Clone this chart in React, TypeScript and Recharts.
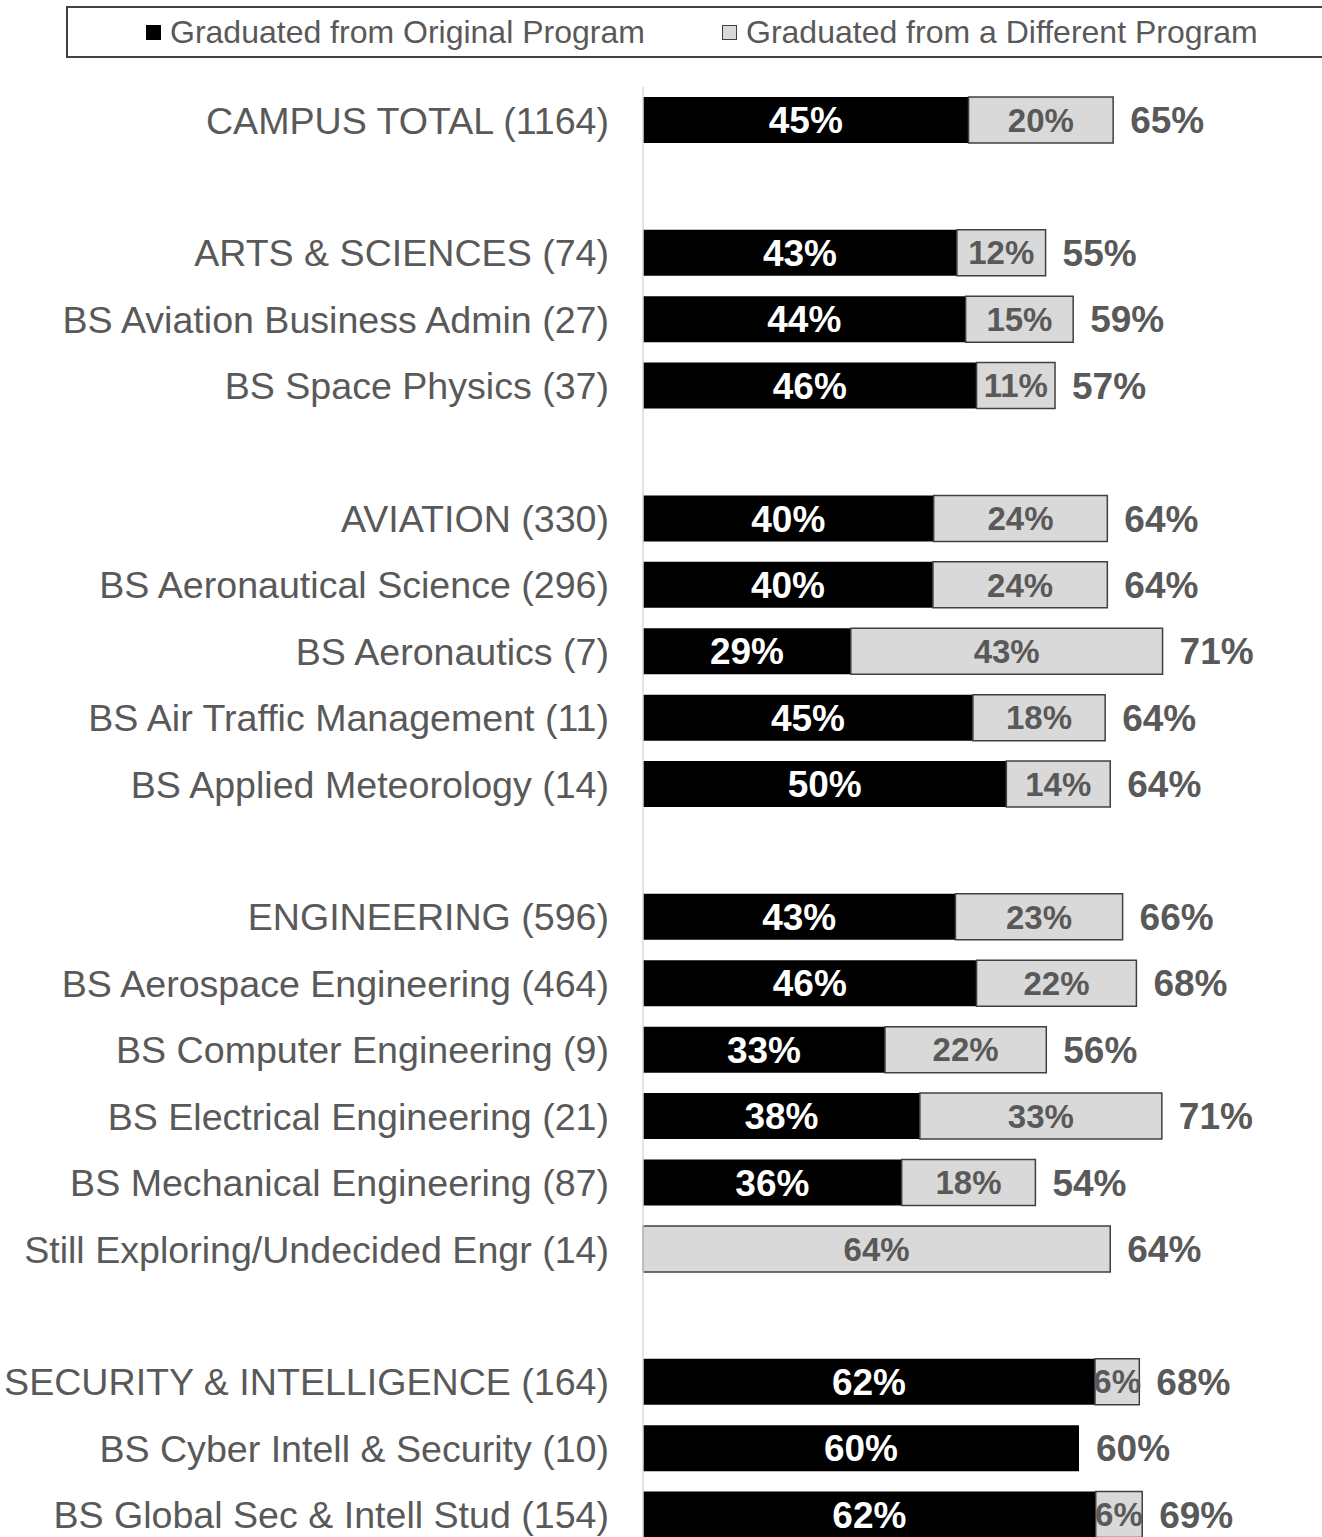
import { Bar, BarChart, LabelList, XAxis, YAxis } from 'recharts'

const FONT = '"Liberation Sans", Arial, sans-serif'

// one row per program, blank strings are spacer rows between colleges
const programs = [
  'CAMPUS TOTAL (1164)',
  '',
  'ARTS & SCIENCES (74)',
  'BS Aviation Business Admin (27)',
  'BS Space Physics (37)',
  '',
  'AVIATION (330)',
  'BS Aeronautical Science (296)',
  'BS Aeronautics (7)',
  'BS Air Traffic Management (11)',
  'BS Applied Meteorology (14)',
  '',
  'ENGINEERING (596)',
  'BS Aerospace Engineering (464)',
  'BS Computer Engineering (9)',
  'BS Electrical Engineering (21)',
  'BS Mechanical Engineering (87)',
  'Still Exploring/Undecided Engr (14)',
  '',
  'SECURITY & INTELLIGENCE (164)',
  'BS Cyber Intell & Security (10)',
  'BS Global Sec & Intell Stud (154)',
]

const originalPct = [
  44.8, null, 43.2, 44.4, 45.9, null, 40.0, 39.9, 28.6, 45.4, 50.0, null,
  43.0, 45.9, 33.3, 38.1, 35.6, 0, null, 62.2, 60.0, 62.3,
]

const differentPct = [
  19.9, null, 12.2, 14.8, 10.8, null, 23.9, 24.0, 42.9, 18.2, 14.3, null,
  23.0, 22.0, 22.2, 33.3, 18.4, 64.3, null, 6.1, 0, 6.4,
]

const totalLabels = [
  '65%', '', '55%', '59%', '57%', '', '64%', '64%', '71%', '64%', '64%', '',
  '66%', '68%', '56%', '71%', '54%', '64%', '', '68%', '60%', '69%',
]

const data = programs.map((name, i) => ({
  id: `row${i}`,
  name,
  original: originalPct[i],
  different: differentPct[i],
  total: totalLabels[i],
}))

const nameById: Record<string, string> = {}
data.forEach((d) => (nameById[d.id] = d.name))

const pct = (v: unknown) => (v ? `${Math.round(Number(v))}%` : '')

function TotalLabel(props: any) {
  const { x, y, width, height, value } = props
  if (!value) return null
  return (
    <text
      x={Number(x) + Number(width) + 17}
      y={Number(y) + Number(height) / 2}
      dy="0.355em"
      fill="#595959"
      fontSize={37}
      fontWeight="bold"
      fontFamily={FONT}
    >
      {value}
    </text>
  )
}

function ChartLegend() {
  const item = { position: 'absolute' as const, top: 0, bottom: 0, display: 'flex', alignItems: 'center' }
  return (
    <div
      style={{
        position: 'absolute',
        left: 66,
        top: 6,
        width: 1300,
        height: 52,
        border: '2px solid #404040',
        boxSizing: 'border-box',
        fontFamily: FONT,
        fontSize: 32,
        color: '#595959',
        background: '#fff',
      }}
    >
      <div style={{ ...item, left: 78 }}>
        <span style={{ width: 15, height: 15, background: '#000', marginRight: 9 }} />
        Graduated from Original Program
      </div>
      <div style={{ ...item, left: 654 }}>
        <span style={{ width: 13, height: 13, background: '#d9d9d9', border: '1.5px solid #404040', marginRight: 9 }} />
        Graduated from a Different Program
      </div>
    </div>
  )
}

export default function App() {
  return (
    <div style={{ position: 'absolute', left: 0, top: 0, width: 1322, height: 1537, overflow: 'hidden', background: '#fff' }}>
      <ChartLegend />
      <BarChart
        layout="vertical"
        width={1322}
        height={1560}
        data={data}
        margin={{ top: 87, right: 25, bottom: 12, left: 0 }}
        barCategoryGap="15%"
      >
        <XAxis type="number" domain={[0, 90]} hide />
        <YAxis
          type="category"
          dataKey="id"
          width={643}
          interval={0}
          axisLine={{ stroke: '#d9d9d9', strokeWidth: 1.5 }}
          tickLine={false}
          tickSize={0}
          tickMargin={34}
          tick={{ fill: '#595959', fontSize: 37.6, fontFamily: FONT }}
          tickFormatter={(v: string) => nameById[v] ?? ''}
        />
        <Bar dataKey="original" stackId="a" fill="#000" isAnimationActive={false}>
          <LabelList
            dataKey="original"
            position="center"
            formatter={pct}
            fill="#fff"
            fontSize={37}
            fontWeight="bold"
            fontFamily={FONT}
          />
          {/* rows with no "different" segment get their total here */}
          <LabelList dataKey={(d: any) => (d.different ? '' : d.total)} content={TotalLabel} />
        </Bar>
        <Bar dataKey="different" stackId="a" fill="#d9d9d9" stroke="#404040" strokeWidth={1.5} isAnimationActive={false}>
          <LabelList
            dataKey="different"
            position="center"
            formatter={pct}
            fill="#595959"
            fontSize={33}
            fontWeight="bold"
            fontFamily={FONT}
          />
          <LabelList dataKey={(d: any) => (d.different ? d.total : '')} content={TotalLabel} />
        </Bar>
      </BarChart>
    </div>
  )
}
